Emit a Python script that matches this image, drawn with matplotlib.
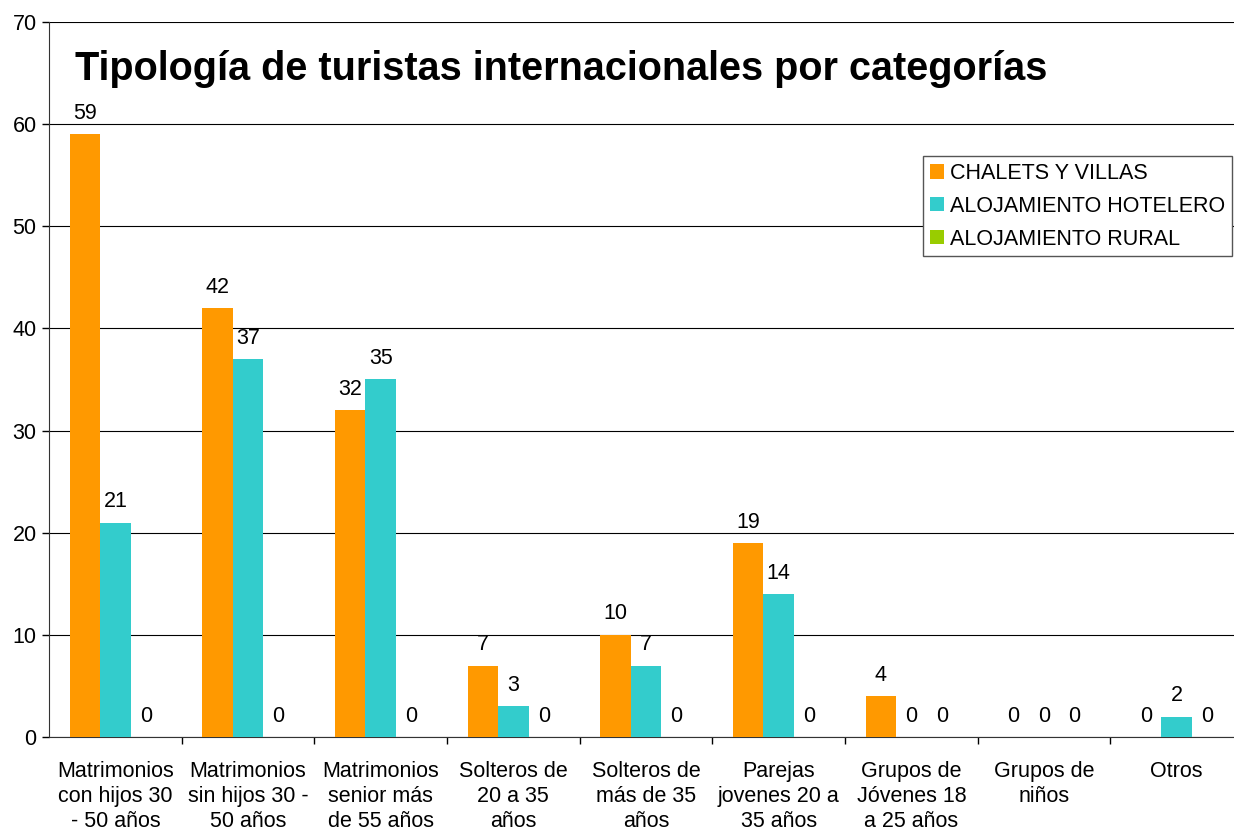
import matplotlib
matplotlib.use("Agg")
import matplotlib.pyplot as plt
import numpy as np

categories = ["Matrimonios\ncon hijos 30\n- 50 años", "Matrimonios\nsin hijos 30 -\n50 años",
              "Matrimonios\nsenior más\nde 55 años", "Solteros de\n20 a 35\naños",
              "Solteros de\nmás de 35\naños", "Parejas\njovenes 20 a\n35 años",
              "Grupos de\nJóvenes 18\na 25 años", "Grupos de\nniños", "Otros"]
series_names = ["CHALETS Y VILLAS", "ALOJAMIENTO HOTELERO", "ALOJAMIENTO RURAL"]
chalets = [59, 42, 32, 7, 10, 19, 4, 0, 0]
hotelero = [21, 37, 35, 3, 7, 14, 0, 0, 2]
rural = [0, 0, 0, 0, 0, 0, 0, 0, 0]
colors = ["#FF9900", "#33CCCC", "#99CC00"]
title = "Tipología de turistas internacionales por categorías"

plt.rcParams['font.family'] = ['Liberation Sans', 'DejaVu Sans']
FS = 15.5

W, H = 1234, 830
fig = plt.figure(figsize=(W/100, H/100), dpi=100)
ax = fig.add_axes([49/W, 1-737/H, (1243-49)/W, (737-22)/H])

x = np.arange(len(categories))
bw = 0.23
for i, (vals, col, name) in enumerate(zip([chalets, hotelero, rural], colors, series_names)):
    pos = x + (i-1)*bw
    ax.bar(pos, vals, width=bw, color=col, label=name, zorder=3)
    for p, v in zip(pos, vals):
        ax.annotate(f"{v}", (p, v), xytext=(0, 7.5), textcoords='offset points',
                    ha='center', va='bottom', fontsize=FS)

ax.set_xlim(-0.5, len(categories)-0.5)
ax.set_ylim(0, 70)
ax.set_yticks(range(0, 71, 10))
ax.tick_params(axis='y', labelsize=FS, length=5, width=1, direction='out', pad=4)
ax.set_xticks(x)
ax.set_xticklabels(categories, fontsize=FS, linespacing=1.25)
ax.tick_params(axis='x', length=0, pad=17)
ax.set_xticks(np.arange(0.5, len(categories)-0.5, 1), minor=True)
ax.tick_params(axis='x', which='minor', length=5, width=1, direction='out')
ax.grid(axis='y', color='black', linewidth=0.8, zorder=0)
for s in ['top', 'right']:
    ax.spines[s].set_visible(False)
ax.spines['left'].set_color('#333333')
ax.spines['bottom'].set_color('#333333')

fig.text(75/W, 1-69/H, title, fontsize=28.5, fontweight='bold', ha='left', va='center')

leg = ax.legend(loc='upper left', bbox_to_anchor=(923/W, 1-156/H), bbox_transform=fig.transFigure,
                fontsize=FS, frameon=True, fancybox=False, framealpha=1, edgecolor='#555555',
                handlelength=0.65, handleheight=0.65, handletextpad=0.3, borderpad=0.32,
                labelspacing=0.55, borderaxespad=0)
leg.get_frame().set_linewidth(1)

fig.savefig("out.png", dpi=100)
